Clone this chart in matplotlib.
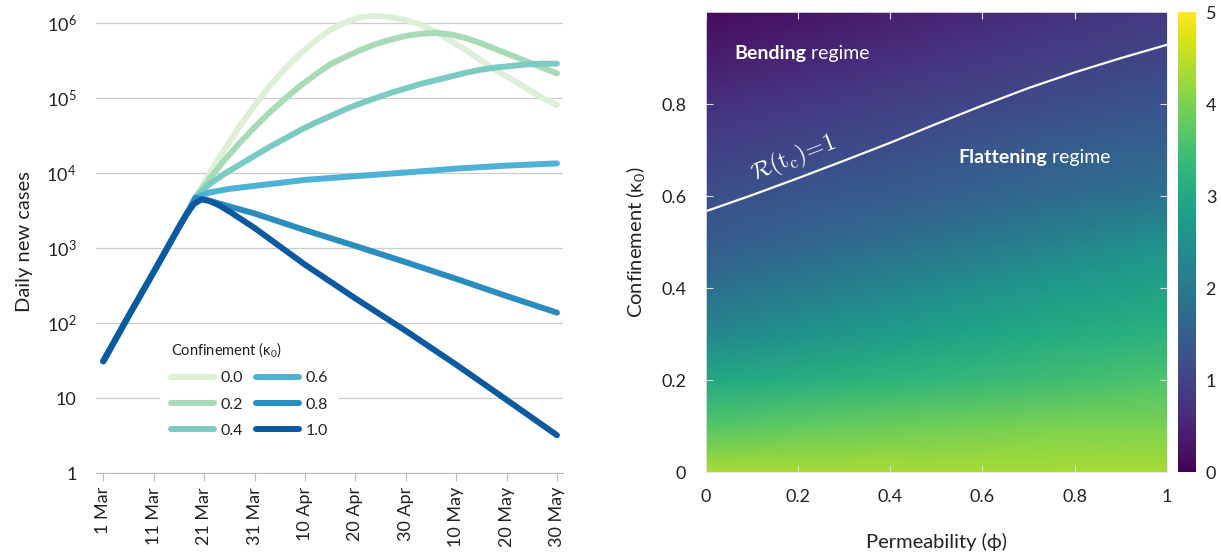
import matplotlib
matplotlib.use("Agg")
import matplotlib.pyplot as plt
from matplotlib.ticker import NullLocator
import numpy as np

plt.rcParams['font.family'] = ['Lato', 'DejaVu Sans']
plt.rcParams['mathtext.fontset'] = 'custom'
plt.rcParams['mathtext.rm'] = 'Lato'
plt.rcParams['mathtext.it'] = 'Lato:italic'
plt.rcParams['mathtext.bf'] = 'Lato:bold'

# === left panel: daily new cases, days counted from 1 Mar ===
# strongly curved scenarios (kappa0 = 0.0, 0.2, 0.4) share a finer day grid
days_fine = [0, 5, 10, 15, 17, 18.3, 21, 24, 27, 30, 33, 36, 39, 42, 45, 48, 51, 54,
             57, 60, 63, 66, 69, 72, 75, 78, 81, 84, 87, 90]
cases_k00 = [31, 124, 480, 1900, 3240, 4700, 9800, 20400, 41700, 79400, 145000, 245000,
             389000, 575000, 813000, 1023000, 1202000, 1259000, 1202000, 1096000, 955000,
             759000, 575000, 437000, 316000, 234000, 178000, 135000, 102000, 81300]
cases_k02 = [31, 124, 480, 1900, 3240, 4700, 8300, 14800, 25100, 40700, 64600, 97700,
             145000, 204000, 282000, 355000, 437000, 525000, 603000, 676000, 724000,
             741000, 708000, 631000, 537000, 447000, 372000, 309000, 257000, 214000]
cases_k04 = [31, 124, 480, 1900, 3240, 4700, 7080, 9770, 12900, 17000, 22400, 28800,
             37200, 46800, 57500, 70800, 85100, 100000, 117500, 135000, 155000, 174000,
             195000, 219000, 240000, 257000, 269000, 282000, 288000, 288000]
# nearly straight scenarios
days_coarse = [0, 5, 10, 15, 17, 18.3, 21, 25, 30, 40, 50, 60, 70, 80, 90]
cases_k06 = [31, 124, 480, 1900, 3240, 4700, 5500, 6170, 6760, 8130, 9120, 10200,
             11500, 12600, 13500]
cases_k08 = [31, 124, 480, 1900, 3240, 4700, 4300, 3600, 2900, 1740, 1070, 650,
             390, 230, 138]
days_k10 = [0, 5, 10, 15, 16.5, 18, 19.5, 21, 23, 25, 30, 40, 50, 60, 70, 80, 90]
cases_k10 = [31, 124, 480, 1900, 2820, 3890, 4470, 4270, 3720, 3090, 1860, 603,
             214, 79, 28, 9.5, 3.2]

kappa_labels = ['0.0', '0.2', '0.4', '0.6', '0.8', '1.0']
line_colors = ['#ddefd7', '#a8dab5', '#7ccbc3', '#4eb1d6', '#2b8cc0', '#0b5aa0']

date_ticks = [0, 10, 20, 30, 40, 50, 60, 70, 80, 90]
date_labels = ['1 Mar', '11 Mar', '21 Mar', '31 Mar', '10 Apr', '20 Apr',
               '30 Apr', '10 May', '20 May', '30 May']
case_ticks = [1, 10, 1e2, 1e3, 1e4, 1e5, 1e6]
case_labels = ['1', '10', '10$^2$', '10$^3$', '10$^4$', '10$^5$', '10$^6$']

# === right panel: heatmap over permeability (x) and confinement (y) ===
phi_grid = [0.0, 0.25, 0.5, 0.75, 1.0]
kappa_grid = [0.0, 0.1, 0.2, 0.3, 0.4, 0.5, 0.6, 0.7, 0.8, 0.9, 1.0]
heat = [
    [4.35, 4.35, 4.35, 4.35, 4.35],
    [3.65, 3.80, 3.90, 4.00, 4.00],
    [3.00, 3.15, 3.30, 3.45, 3.60],
    [2.30, 2.60, 2.85, 3.05, 3.20],
    [1.80, 2.10, 2.40, 2.70, 2.90],
    [1.40, 1.65, 1.90, 2.20, 2.50],
    [1.20, 1.35, 1.50, 1.70, 1.90],
    [0.95, 1.10, 1.25, 1.45, 1.60],
    [0.70, 0.85, 1.00, 1.15, 1.30],
    [0.40, 0.55, 0.75, 0.90, 1.05],
    [0.15, 0.30, 0.50, 0.70, 0.85],
]
# R(t_c)=1 boundary
border_phi = [0.0, 0.1, 0.2, 0.3, 0.4, 0.5, 0.6, 0.7, 0.8, 0.9, 1.0]
border_kappa = [0.567, 0.602, 0.639, 0.677, 0.716, 0.757, 0.797, 0.835, 0.869, 0.900, 0.929]

fig = plt.figure(figsize=(12.21, 5.54), dpi=100)

# --- left: curves ---
ax1 = fig.add_axes([0.0786, 0.146, 0.3825, 0.836])
series = [(days_fine, cases_k00), (days_fine, cases_k02), (days_fine, cases_k04),
          (days_coarse, cases_k06), (days_coarse, cases_k08), (days_k10, cases_k10)]
for (d, vals), lab, col in zip(series, kappa_labels, line_colors):
    ax1.plot(d, vals, color=col, lw=4.3, solid_capstyle='round',
             solid_joinstyle='round', label=lab, zorder=3)

ax1.set_yscale('log')
ax1.set_ylim(1, 1.5e6)
ax1.set_xlim(-1.45, 91.2)
ax1.set_yticks(case_ticks)
ax1.set_yticklabels(case_labels)
ax1.yaxis.set_minor_locator(NullLocator())
ax1.set_xticks(date_ticks)
ax1.set_xticklabels(date_labels, rotation=90)
ax1.grid(axis='y', color='#cccccc', lw=0.9, zorder=0)
for s in ['top', 'right', 'left']:
    ax1.spines[s].set_visible(False)
ax1.spines['bottom'].set_color('#bbbbbb')
ax1.tick_params(axis='y', length=0, pad=14, labelsize=13, labelcolor='#222222')
ax1.tick_params(axis='x', length=6, color='#bbbbbb', pad=4, labelsize=13, labelcolor='#222222')
ax1.set_ylabel('Daily new cases', fontsize=14.5, color='#222222', labelpad=10)

leg = ax1.legend(ncol=2, loc='lower left', bbox_to_anchor=(0.12, 0.035),
                 title='Confinement (κ$_0$)', title_fontsize=10.5, fontsize=11.5,
                 frameon=True, facecolor='white', edgecolor='none', framealpha=1,
                 handlelength=2.7, columnspacing=0.8, labelspacing=0.75, handletextpad=0.4,
                 borderpad=0.7)
leg._legend_box.align = 'left'
leg._legend_box.sep = 9
leg.get_title().set_color('#222222')
for t in leg.get_texts():
    t.set_color('#222222')

# --- right: heatmap ---
ax2 = fig.add_axes([0.578, 0.148, 0.3776, 0.830])
mesh = ax2.pcolormesh(phi_grid, kappa_grid, np.array(heat), shading='gouraud',
                      cmap='viridis', vmin=0, vmax=5)
ax2.plot(border_phi, border_kappa, color='white', lw=1.6)
ax2.set_xlim(0, 1)
ax2.set_ylim(0, 1)
ax2.set_xticks([0, 0.2, 0.4, 0.6, 0.8, 1.0])
ax2.set_xticklabels(['0', '0.2', '0.4', '0.6', '0.8', '1'])
ax2.set_yticks([0, 0.2, 0.4, 0.6, 0.8])
ax2.set_yticklabels(['0', '0.2', '0.4', '0.6', '0.8'])
ax2.tick_params(direction='in', top=True, right=True, length=5, color='#dddddd',
                labelsize=13, labelcolor='#222222')
ax2.tick_params(axis='x', pad=12)
ax2.tick_params(axis='y', pad=14)
for s in ax2.spines.values():
    s.set_color('#e6e6e6')
    s.set_linewidth(0.6)
ax2.set_xlabel('Permeability (ϕ)', fontsize=14.5, color='#222222', labelpad=20)
ax2.set_ylabel('Confinement (κ$_0$)', fontsize=14.5, color='#222222', labelpad=10)

t1 = ax2.text(0.062, 0.91, 'Bending', color='white', fontsize=14, fontweight='bold', va='center')
ax2.annotate(' regime', xy=(1, 0.5), xycoords=t1, va='center', color='white', fontsize=14)
t2 = ax2.text(0.548, 0.685, 'Flattening', color='white', fontsize=14, fontweight='bold', va='center')
ax2.annotate(' regime', xy=(1, 0.5), xycoords=t2, va='center', color='white', fontsize=14)
ax2.text(0.19, 0.682, r'$\mathcal{R}(\mathrm{t}_\mathrm{c})\!=\!1$', color='white', fontsize=17,
         rotation=21, ha='center', va='center', math_fontfamily='cm')

cax = fig.add_axes([0.9648, 0.148, 0.0147, 0.830])
cb = fig.colorbar(mesh, cax=cax, ticks=[0, 1, 2, 3, 4, 5])
cb.outline.set_visible(False)
cax.tick_params(length=0, labelsize=13, pad=7, labelcolor='#222222')

fig.savefig('out.png', dpi=100)
